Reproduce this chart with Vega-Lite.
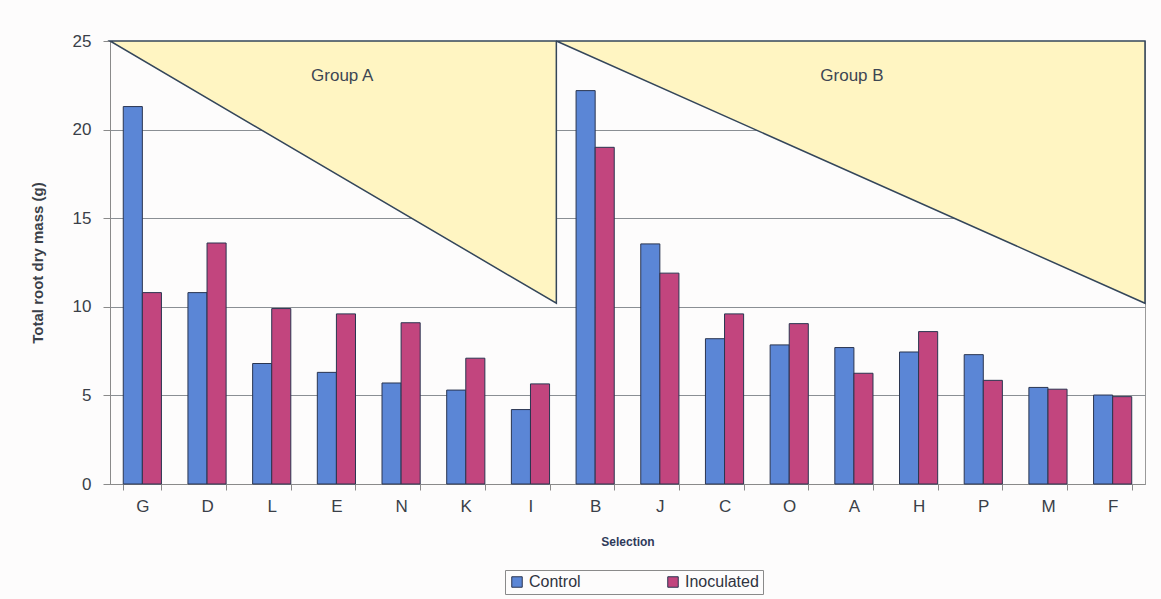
{
  "$schema": "https://vega.github.io/schema/vega-lite/v6.json",
  "width": 1035,
  "height": 443,
  "autosize": {"type": "none"},
  "padding": {"left": 110, "top": 41, "right": 16, "bottom": 115},
  "background": "#fdfcfc",
  "config": {
    "font": "Liberation Sans",
    "view": {"stroke": "#9a9a9a", "strokeWidth": 1},
    "axis": {"labelFont": "Liberation Sans", "titleFont": "Liberation Sans"}
  },
  "datasets": {
    "bars": [
      {"sel": "G", "treatment": "Control", "mass": 21.3},
      {"sel": "G", "treatment": "Inoculated", "mass": 10.8},
      {"sel": "D", "treatment": "Control", "mass": 10.8},
      {"sel": "D", "treatment": "Inoculated", "mass": 13.6},
      {"sel": "L", "treatment": "Control", "mass": 6.8},
      {"sel": "L", "treatment": "Inoculated", "mass": 9.9},
      {"sel": "E", "treatment": "Control", "mass": 6.3},
      {"sel": "E", "treatment": "Inoculated", "mass": 9.6},
      {"sel": "N", "treatment": "Control", "mass": 5.7},
      {"sel": "N", "treatment": "Inoculated", "mass": 9.1},
      {"sel": "K", "treatment": "Control", "mass": 5.3},
      {"sel": "K", "treatment": "Inoculated", "mass": 7.1},
      {"sel": "I", "treatment": "Control", "mass": 4.2},
      {"sel": "I", "treatment": "Inoculated", "mass": 5.65},
      {"sel": "B", "treatment": "Control", "mass": 22.2},
      {"sel": "B", "treatment": "Inoculated", "mass": 19.0},
      {"sel": "J", "treatment": "Control", "mass": 13.55},
      {"sel": "J", "treatment": "Inoculated", "mass": 11.9},
      {"sel": "C", "treatment": "Control", "mass": 8.2},
      {"sel": "C", "treatment": "Inoculated", "mass": 9.6},
      {"sel": "O", "treatment": "Control", "mass": 7.85},
      {"sel": "O", "treatment": "Inoculated", "mass": 9.05},
      {"sel": "A", "treatment": "Control", "mass": 7.7},
      {"sel": "A", "treatment": "Inoculated", "mass": 6.25},
      {"sel": "H", "treatment": "Control", "mass": 7.45},
      {"sel": "H", "treatment": "Inoculated", "mass": 8.6},
      {"sel": "P", "treatment": "Control", "mass": 7.3},
      {"sel": "P", "treatment": "Inoculated", "mass": 5.85},
      {"sel": "M", "treatment": "Control", "mass": 5.45},
      {"sel": "M", "treatment": "Inoculated", "mass": 5.35},
      {"sel": "F", "treatment": "Control", "mass": 5.02},
      {"sel": "F", "treatment": "Inoculated", "mass": 4.93}
    ],
    "triangles": [
      {"group": "A", "pos": 0, "top": 25, "bottom": 25},
      {"group": "A", "pos": 6.9, "top": 25, "bottom": 10.2},
      {"group": "B", "pos": 6.9, "top": 25, "bottom": 25},
      {"group": "B", "pos": 16, "top": 25, "bottom": 10.2}
    ],
    "labels": [
      {"label": "Group A", "pos": 3.59, "val": 23.05},
      {"label": "Group B", "pos": 11.47, "val": 23.05}
    ]
  },
  "layer": [
    {
      "data": {"name": "triangles"},
      "mark": {"type": "area", "fill": "#fff5c2", "stroke": "#34465a", "strokeWidth": 1.5, "fillOpacity": 1},
      "encoding": {
        "x": {"field": "pos", "type": "quantitative", "scale": {"domain": [0, 16], "nice": false}, "axis": null},
        "y": {"field": "top", "type": "quantitative", "scale": {"domain": [0, 25], "nice": false, "zero": true},
          "axis": {"values": [0, 5, 10, 15, 20, 25], "grid": true, "gridColor": "#8a8f94", "gridWidth": 1,
            "domainColor": "#8a8a8a", "tickColor": "#8a8a8a", "tickSize": 7,
            "labelFontSize": 17, "labelColor": "#3a3f48", "labelPadding": 12,
            "title": "Total root dry mass (g)", "titleFontSize": 15, "titleFontWeight": "bold",
            "titleColor": "#3a3f48", "titlePadding": 27}},
        "y2": {"field": "bottom"},
        "detail": {"field": "group"}
      }
    },
    {
      "data": {"name": "labels"},
      "mark": {"type": "text", "fontSize": 17, "color": "#3d4653", "font": "Liberation Sans"},
      "encoding": {
        "x": {"field": "pos", "type": "quantitative", "scale": {"domain": [0, 16], "nice": false}, "axis": null},
        "y": {"field": "val", "type": "quantitative", "scale": {"domain": [0, 25], "nice": false}},
        "text": {"field": "label"}
      }
    },
    {
      "data": {"name": "bars"},
      "mark": {"type": "bar", "stroke": "#2a3550", "strokeWidth": 1},
      "encoding": {
        "x": {"field": "sel", "type": "nominal", "sort": null,
          "scale": {"paddingInner": 0.41, "paddingOuter": 0.205},
          "axis": {"labelAngle": 0, "tickBand": "extent", "tickSize": 6, "domainColor": "#8a8a8a",
            "tickColor": "#8a8a8a", "labelFontSize": 17, "labelColor": "#3a3f48", "labelPadding": 8,
            "title": "Selection", "titleFontSize": 12, "titleFontWeight": "bold", "titleColor": "#2f3a5a",
            "titlePadding": 22}},
        "xOffset": {"field": "treatment", "type": "nominal", "sort": ["Control", "Inoculated"], "scale": {"paddingInner": 0}},
        "y": {"field": "mass", "type": "quantitative", "scale": {"domain": [0, 25], "nice": false}},
        "color": {"field": "treatment", "type": "nominal",
          "scale": {"domain": ["Control", "Inoculated"], "range": ["#5b86d6", "#c2457e"]},
          "legend": {"title": null, "orient": "none", "legendX": 395, "legendY": 529, "direction": "horizontal",
            "strokeColor": "#8a8a8a", "padding": 4, "symbolType": "square", "symbolSize": 110,
            "symbolStrokeColor": "#2a3550", "symbolStrokeWidth": 1, "labelFontSize": 16, "labelColor": "#2f3340",
            "columnPadding": 84, "labelOffset": 4}}
      }
    }
  ],
  "resolve": {"scale": {"x": "independent"}}
}
